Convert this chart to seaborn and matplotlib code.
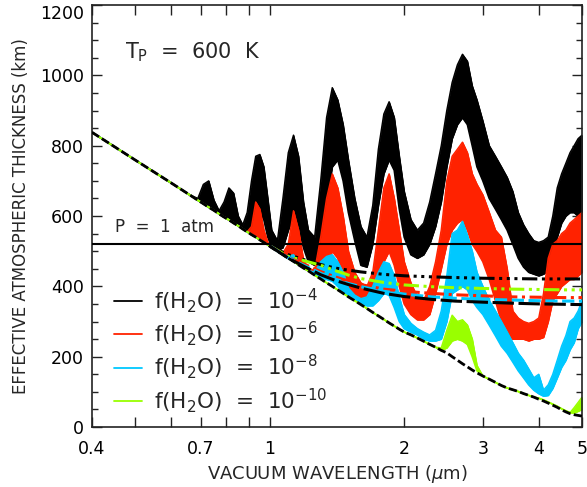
import matplotlib
matplotlib.use('Agg')
import matplotlib.pyplot as plt
from matplotlib.lines import Line2D
from matplotlib.ticker import MultipleLocator, NullLocator
import seaborn as sns

# wavelength grid (microns)
wl = [0.40, 0.50, 0.60, 0.66, 0.69, 0.71, 0.73, 0.75, 0.77, 0.79,
      0.81, 0.83, 0.85, 0.87, 0.89, 0.91, 0.93, 0.95, 0.97, 0.99,
      1.01, 1.04, 1.07, 1.10, 1.13, 1.16, 1.19, 1.22, 1.26, 1.30,
      1.34, 1.38, 1.42, 1.46, 1.50, 1.55, 1.60, 1.65, 1.70, 1.75,
      1.80, 1.85, 1.90, 1.95, 2.00, 2.07, 2.14, 2.21, 2.28, 2.35,
      2.42, 2.49, 2.56, 2.63, 2.70, 2.77, 2.84, 2.91, 3.00, 3.10,
      3.20, 3.30, 3.40, 3.50, 3.60, 3.70, 3.80, 3.90, 4.00, 4.10,
      4.20, 4.30, 4.40, 4.50, 4.60, 4.70, 4.80, 4.90, 5.00]

# clear-sky (no water) thickness, km
rayleigh = [838, 759, 695, 661, 645, 635, 625, 616, 606, 597,
            589, 580, 572, 563, 555, 547, 540, 532, 525, 518,
            510, 500, 490, 480, 471, 461, 452, 444, 432, 421,
            410, 400, 390, 380, 370, 359, 348, 337, 326, 316,
            306, 296, 287, 278, 270, 262, 253, 244, 235, 227,
            218, 211, 200, 190, 180, 171, 162, 154, 145, 136,
            127, 118, 111, 106, 101, 95, 90, 85, 79, 74,
            68, 62, 56, 49, 43, 38, 35, 33, 31]

# f(H2O) = 1e-4  (lower / upper envelope of the noisy spectrum)
h2o_4_lo = [838, 759, 695, 661, 645, 635, 625, 616, 606, 597,
            589, 580, 572, 563, 555, 560, 600, 610, 590, 540,
            512, 502, 510, 560, 600, 570, 510, 470, 460, 520,
            640, 740, 760, 700, 610, 530, 460, 455, 520, 630,
            720, 760, 730, 620, 540, 490, 480, 490, 520, 570,
            640, 740, 820, 860, 880, 860, 800, 740, 700, 650,
            620, 590, 560, 520, 480, 455, 440, 435, 430, 435,
            445, 480, 540, 580, 600, 610, 610, 600, 600]
h2o_4_hi = [838, 759, 695, 661, 650, 690, 700, 645, 615, 640,
            680, 665, 600, 575, 610, 700, 770, 775, 740, 650,
            560, 530, 650, 780, 830, 770, 640, 560, 540, 700,
            880, 965, 930, 860, 760, 650, 570, 540, 630, 790,
            890, 925, 880, 770, 670, 590, 560, 580, 640, 720,
            800, 900, 980, 1030, 1060, 1040, 970, 930, 870, 800,
            770, 740, 710, 670, 610, 575, 550, 530, 525, 530,
            540, 600, 680, 720, 750, 780, 800, 820, 830]

# f(H2O) = 1e-6
h2o_6_lo = [838, 759, 695, 661, 645, 635, 625, 616, 606, 597,
            589, 580, 572, 563, 555, 547, 540, 532, 525, 518,
            510, 500, 490, 480, 480, 470, 452, 444, 432, 430,
            460, 500, 480, 430, 390, 370, 362, 360, 370, 420,
            470, 500, 460, 400, 350, 320, 305, 305, 320, 380,
            450, 520, 560, 580, 590, 560, 520, 500, 470, 420,
            360, 300, 260, 250, 250, 250, 245, 250, 250, 255,
            300, 360, 380, 400, 410, 420, 420, 430, 440]
h2o_6_hi = [838, 759, 695, 661, 645, 635, 625, 616, 606, 597,
            589, 580, 572, 563, 555, 570, 640, 620, 560, 525,
            510, 500, 495, 520, 615, 560, 475, 452, 445, 540,
            650, 720, 680, 600, 500, 440, 410, 400, 440, 560,
            680, 720, 650, 560, 470, 410, 370, 360, 400, 470,
            560, 700, 770, 790, 810, 780, 720, 690, 660, 610,
            560, 540, 450, 330, 310, 300, 295, 300, 310, 380,
            480, 520, 530, 550, 560, 580, 590, 600, 610]

# f(H2O) = 1e-8
h2o_8_lo = [838, 759, 695, 661, 645, 635, 625, 616, 606, 597,
            589, 580, 572, 563, 555, 547, 540, 532, 525, 518,
            510, 500, 490, 480, 471, 461, 452, 444, 432, 425,
            420, 415, 400, 385, 372, 360, 350, 345, 345, 360,
            380, 375, 340, 300, 280, 270, 262, 250, 245, 245,
            250, 300, 380, 390, 400, 390, 360, 340, 320, 290,
            260, 230, 210, 185, 160, 140, 120, 105, 95, 88,
            90, 110, 140, 170, 190, 220, 240, 280, 300]
h2o_8_hi = [838, 759, 695, 661, 645, 635, 625, 616, 606, 597,
            589, 580, 572, 563, 555, 547, 540, 532, 525, 518,
            510, 500, 490, 485, 490, 468, 455, 446, 440, 470,
            485, 490, 470, 440, 395, 375, 365, 370, 400, 440,
            470, 465, 430, 370, 320, 295, 280, 270, 262, 275,
            330, 430, 550, 560, 585, 545, 500, 440, 400, 360,
            330, 300, 270, 240, 210, 190, 165, 140, 150, 105,
            120, 150, 190, 230, 260, 300, 310, 330, 360]

# f(H2O) = 1e-10
h2o_10_lo = [838, 759, 695, 661, 645, 635, 625, 616, 606, 597,
             589, 580, 572, 563, 555, 547, 540, 532, 525, 518,
             510, 500, 490, 480, 471, 461, 452, 444, 432, 421,
             410, 400, 390, 380, 370, 359, 348, 337, 326, 316,
             306, 296, 287, 278, 270, 262, 253, 244, 235, 227,
             218, 225, 245, 250, 245, 235, 200, 160, 145, 136,
             127, 118, 111, 106, 101, 95, 90, 85, 82, 77,
             71, 65, 59, 52, 46, 41, 40, 45, 50]
h2o_10_hi = [838, 759, 695, 661, 645, 635, 625, 616, 606, 597,
             589, 580, 572, 563, 555, 547, 540, 532, 525, 518,
             510, 500, 490, 480, 471, 461, 452, 444, 432, 421,
             410, 400, 390, 380, 370, 359, 348, 337, 326, 316,
             306, 296, 287, 278, 270, 262, 253, 244, 235, 227,
             225, 275, 318, 300, 305, 290, 250, 175, 145, 136,
             127, 118, 111, 106, 101, 95, 90, 85, 82, 77,
             71, 65, 59, 52, 46, 41, 55, 70, 85]

# cloud/haze-limited curves
cloud_wl = [1.0, 1.1, 1.2, 1.3, 1.4, 1.5, 1.6, 1.8, 2.0, 2.3, 2.6, 3.0, 3.5, 4.0, 4.5, 5.0]
cloud_4 = [515, 490, 475, 462, 452, 446, 441, 434, 430, 427, 425, 423, 422, 421, 421, 421]
cloud_10 = [515, 485, 472, 460, 445, 432, 422, 411, 404, 399, 396, 394, 392, 391, 390, 390]
cloud_6 = [515, 482, 462, 442, 427, 415, 405, 392, 386, 380, 376, 373, 370, 369, 368, 368]
cloud_8 = [515, 481, 458, 437, 421, 408, 399, 386, 378, 370, 366, 363, 361, 359, 358, 358]
cloud_base = [515, 480, 455, 433, 417, 405, 395, 380, 371, 363, 358, 355, 352, 350, 349, 348]

p_1atm = 520

labels = [r'f(H$_2$O)  =  10$^{-4}$', r'f(H$_2$O)  =  10$^{-6}$',
          r'f(H$_2$O)  =  10$^{-8}$', r'f(H$_2$O)  =  10$^{-10}$']
colors = ['#000000', '#ff2200', '#00c8ff', '#99ff00']

sns.set_theme(style='ticks')
plt.rcParams['font.family'] = ['DejaVu Sans']
plt.rcParams['mathtext.fontset'] = 'dejavusans'

fig = plt.figure(figsize=(5.87, 4.87), dpi=100)
ax = fig.add_axes([92 / 587, 60 / 487, 490 / 587, 422 / 487])

spectra = [(h2o_4_lo, h2o_4_hi), (h2o_6_lo, h2o_6_hi),
           (h2o_8_lo, h2o_8_hi), (h2o_10_lo, h2o_10_hi)]
for (lo, hi), c in zip(spectra, colors):
    ax.fill_between(wl, lo, hi, color=c, lw=0.6, zorder=2)
    sns.lineplot(x=wl, y=lo, color=c, lw=1.3, ax=ax, sort=False, estimator=None, zorder=2)
    sns.lineplot(x=wl, y=hi, color=c, lw=1.0, ax=ax, sort=False, estimator=None, zorder=2)

# haze curves
styles = [(cloud_4, '#000000', (0, (5, 1.5, 1, 1.5, 1, 1.5, 1, 1.5))),
          (cloud_10, '#99ff00', (0, (5, 1.5, 1, 1.5, 1, 1.5))),
          (cloud_6, '#ff2200', (0, (4, 1.5, 1, 1.5))),
          (cloud_8, '#00c8ff', (0, (4, 1.5))),
          (cloud_base, '#000000', (0, (7, 1.5)))]
for ys, c, ls in styles:
    sns.lineplot(x=cloud_wl, y=ys, color=c, lw=2.2, linestyle=ls, ax=ax,
                 sort=False, estimator=None, zorder=3)

sns.lineplot(x=wl, y=rayleigh, color='black', lw=2.0, linestyle=(0, (3, 1.2)),
             ax=ax, sort=False, estimator=None, zorder=4)
ax.axhline(p_1atm, color='black', lw=1.5, zorder=4)

ax.set_xscale('log')
ax.set_xlim(0.4, 5)
ax.set_ylim(0, 1200)
xt = [0.4, 0.5, 0.6, 0.7, 0.8, 0.9, 1, 2, 3, 4, 5]
ax.set_xticks(xt)
ax.set_xticklabels(['0.4', '', '', '0.7', '', '', '1', '2', '3', '4', '5'])
ax.xaxis.set_minor_locator(NullLocator())
ax.set_yticks([0, 200, 400, 600, 800, 1000, 1200])
ax.yaxis.set_minor_locator(MultipleLocator(50))
ax.tick_params(which='both', direction='in', top=True, right=True, width=1, colors='#222222')
ax.tick_params(which='major', length=7, labelsize=12.5, labelcolor='black')
ax.tick_params(which='minor', length=4)
ax.tick_params(axis='x', pad=9)
ax.tick_params(axis='y', pad=6)
for s in ax.spines.values():
    s.set_linewidth(1.2)
    s.set_color('#222222')

# keep the top label inside the figure, as in the original
ax.get_yticklabels()[-1].set_va('top')

ax.set_xlabel(r'VACUUM WAVELENGTH ($\mu$m)', fontsize=13, labelpad=4)
ax.set_ylabel('EFFECTIVE ATMOSPHERIC THICKNESS (km)', fontsize=12, labelpad=7)

ax.text(0.067, 0.889, r'T$_\mathrm{P}$  =  600  K', transform=ax.transAxes,
        fontsize=15, va='center')
ax.text(0.047, 0.474, 'P  =  1  atm', transform=ax.transAxes, fontsize=12, va='center')

handles = [Line2D([], [], color=c, lw=1.3) for c in colors]
ax.legend(handles, labels, loc='upper left', bbox_to_anchor=(0.045, 0.333),
          frameon=False, fontsize=15.5, handlelength=1.3, handletextpad=0.55,
          labelspacing=0.2, borderpad=0, borderaxespad=0)

fig.savefig('out.png', dpi=100)
